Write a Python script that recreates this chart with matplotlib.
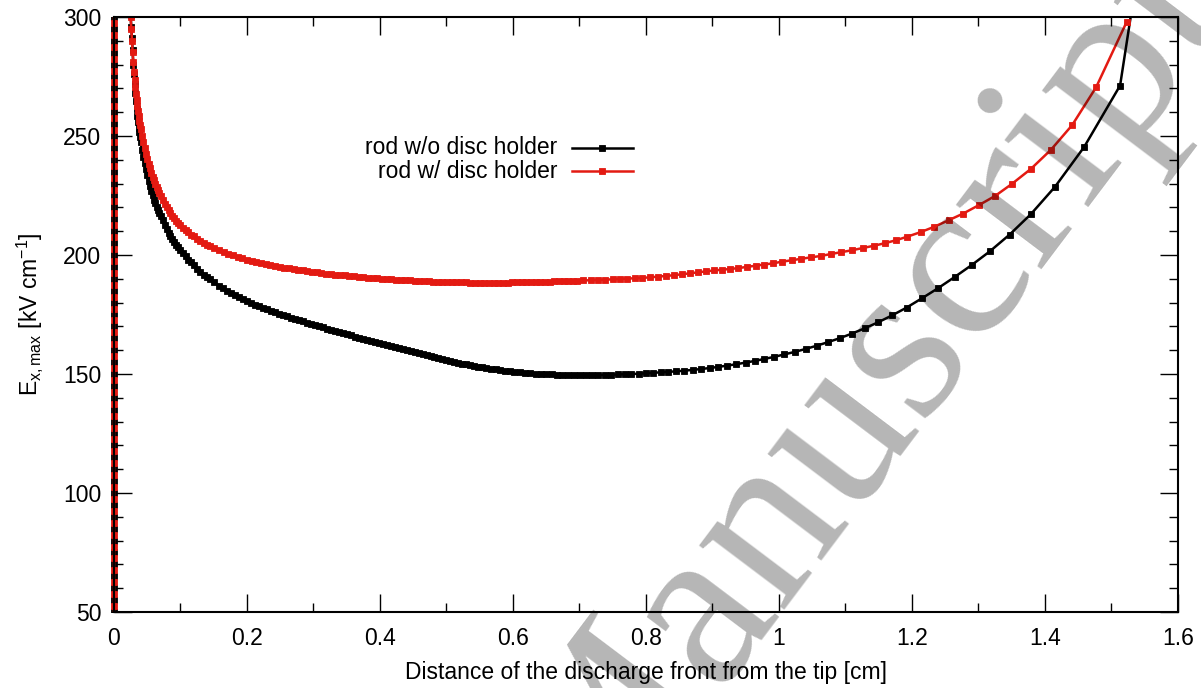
import matplotlib
matplotlib.use("Agg")
import matplotlib.pyplot as plt
from matplotlib.ticker import MultipleLocator
from matplotlib.transforms import Bbox, TransformedBbox

plt.rcParams['font.family'] = ['Liberation Sans', 'DejaVu Sans']
plt.rcParams['mathtext.fontset'] = 'custom'
plt.rcParams['mathtext.rm'] = 'Liberation Sans'
plt.rcParams['mathtext.it'] = 'Liberation Sans:italic'

FS = 16.5

# field build-up at the tip, front still at x = 0
black_rise_y = [45, 50, 55, 60, 65, 70, 75, 80, 85, 90, 95, 100, 105, 110, 115,
                120, 125, 130, 135, 140, 145, 150, 155, 160, 165, 170, 175, 180,
                185, 190, 195, 200, 205, 210, 215, 220, 225, 230, 235, 240, 245,
                250, 255, 260, 265, 270, 275, 280, 285, 290, 295, 300, 305]
red_rise_y = [47.5, 52.5, 57.5, 62.5, 67.5, 72.5, 77.5, 82.5, 87.5, 92.5, 97.5,
              102.5, 107.5, 112.5, 117.5, 122.5, 127.5, 132.5, 137.5, 142.5,
              147.5, 152.5, 157.5, 162.5, 167.5, 172.5, 177.5, 182.5, 187.5,
              192.5, 197.5, 202.5, 207.5, 212.5, 217.5, 222.5, 227.5, 232.5,
              237.5, 242.5, 247.5, 252.5, 257.5, 262.5, 267.5, 272.5, 277.5,
              282.5, 287.5, 292.5, 297.5, 302.5]

# rod without disc holder: front position [cm], E_x,max [kV/cm]
black_x = [0.022, 0.024, 0.025, 0.026, 0.027, 0.028, 0.029, 0.030, 0.031, 0.032,
           0.033, 0.034, 0.035, 0.036, 0.037, 0.038, 0.039, 0.040, 0.042, 0.044,
           0.046, 0.048, 0.050, 0.052, 0.054, 0.056, 0.058, 0.060, 0.062, 0.064,
           0.066, 0.068, 0.070, 0.073, 0.076, 0.079, 0.082, 0.085, 0.088, 0.091,
           0.094, 0.097, 0.100, 0.104, 0.108, 0.112, 0.116, 0.120, 0.125, 0.130,
           0.135, 0.140, 0.145, 0.151,
           0.158, 0.164, 0.170, 0.176, 0.182, 0.188, 0.194, 0.200, 0.206, 0.212,
           0.218, 0.224, 0.230, 0.236, 0.242, 0.248, 0.254, 0.260, 0.266, 0.272,
           0.278, 0.284, 0.290, 0.296, 0.302, 0.308, 0.314, 0.320, 0.326, 0.332,
           0.338, 0.344, 0.350, 0.356, 0.362, 0.368, 0.374, 0.380, 0.386, 0.392,
           0.398, 0.404, 0.410, 0.416, 0.422, 0.428, 0.434, 0.440, 0.446, 0.452,
           0.458, 0.464, 0.470, 0.476, 0.482, 0.488, 0.494, 0.500, 0.506, 0.512,
           0.518, 0.524, 0.530, 0.536, 0.542, 0.548, 0.554, 0.560, 0.567, 0.574,
           0.581, 0.588, 0.595, 0.602, 0.610, 0.618, 0.626, 0.634, 0.642, 0.650,
           0.658, 0.666, 0.674, 0.683, 0.692, 0.701, 0.710, 0.719, 0.728, 0.738,
           0.748, 0.758, 0.768, 0.778, 0.789, 0.800, 0.811, 0.822, 0.833, 0.845,
           0.857, 0.870, 0.883, 0.896, 0.909, 0.922, 0.936, 0.950, 0.964, 0.978,
           0.993, 1.008, 1.024, 1.040, 1.057, 1.074, 1.092, 1.110, 1.129, 1.149,
           1.170, 1.192, 1.215, 1.239, 1.264, 1.290, 1.317, 1.347, 1.379, 1.415,
           1.459, 1.513, 1.530]
black_y = [318, 305, 301, 296, 291, 286, 280, 276, 272, 268,
           264.5, 261.5, 258.5, 256, 253.5, 251.5, 249.5, 247.5, 244, 241,
           238.5, 236, 233.5, 231, 229, 227, 225, 223.3, 221.7, 220.3,
           219, 217.6, 216.3, 214.5, 212.6, 210.8, 209.2, 207.8, 206.6, 205.4,
           204.3, 203.2, 202.2, 200.8, 199.4, 198.1, 196.9, 195.7, 194.3, 193,
           191.8, 190.7, 189.7, 188.5,
           187.1, 186.0, 185.0, 184.1, 183.1, 182.2, 181.3, 180.5, 179.8, 179.1,
           178.4, 177.7, 177.1, 176.5, 175.9, 175.3, 174.8, 174.2, 173.7, 173.2,
           172.6, 172.1, 171.6, 171.1, 170.6, 170.1, 169.6, 169.1, 168.6, 168.1,
           167.6, 167.2, 166.7, 166.2, 165.7, 165.3, 164.8, 164.3, 163.9, 163.4,
           163.0, 162.5, 162.1, 161.6, 161.2, 160.8, 160.3, 159.9, 159.5, 159.1,
           158.7, 158.3, 157.9, 157.5, 157.1, 156.7, 156.3, 155.9, 155.5, 155.1,
           154.7, 154.4, 154.0, 153.7, 153.4, 153.1, 152.8, 152.5, 152.2, 151.9,
           151.6, 151.3, 151.1, 150.9, 150.7, 150.5, 150.3, 150.1, 150.0, 149.9,
           149.8, 149.7, 149.6, 149.5, 149.5, 149.5, 149.5, 149.5, 149.5, 149.6,
           149.7, 149.8, 149.9, 150.0, 150.1, 150.3, 150.5, 150.7, 150.9, 151.1,
           151.4, 151.7, 152.1, 152.5, 153.0, 153.5, 154.1, 154.8, 155.5, 156.3,
           157.2, 158.2, 159.3, 160.5, 161.9, 163.4, 165.1, 167.0, 169.2, 171.7,
           174.6, 177.9, 181.8, 186.0, 190.7, 195.8, 201.5, 208.6, 217.2, 228.6,
           245.4, 271.2, 302]

# rod with disc holder
red_x = [0.022, 0.024, 0.025, 0.026, 0.027, 0.028, 0.029, 0.030, 0.031, 0.032,
         0.033, 0.034, 0.035, 0.036, 0.037, 0.038, 0.039, 0.040, 0.042, 0.044,
         0.046, 0.048, 0.050, 0.052, 0.054, 0.056, 0.058, 0.060, 0.062, 0.064,
         0.066, 0.068, 0.070, 0.073, 0.076, 0.079, 0.082, 0.085, 0.088, 0.091,
         0.094, 0.097, 0.100, 0.104, 0.108, 0.112, 0.116, 0.120, 0.125, 0.130,
         0.135, 0.140, 0.145, 0.151,
         0.158, 0.165, 0.172, 0.179, 0.186, 0.193, 0.200, 0.207, 0.214, 0.221,
         0.228, 0.235, 0.242, 0.249, 0.256, 0.263, 0.270, 0.277, 0.284, 0.291,
         0.298, 0.305, 0.312, 0.319, 0.326, 0.333, 0.340, 0.347, 0.354, 0.361,
         0.368, 0.375, 0.382, 0.389, 0.396, 0.403, 0.410, 0.417, 0.424, 0.431,
         0.438, 0.445, 0.452, 0.459, 0.466, 0.473, 0.480, 0.487, 0.494, 0.501,
         0.508, 0.515, 0.522, 0.529, 0.536, 0.543, 0.550, 0.557, 0.564, 0.571,
         0.578, 0.585, 0.592, 0.599, 0.606, 0.613, 0.620, 0.627, 0.634, 0.641,
         0.648, 0.655, 0.662, 0.669, 0.676, 0.683, 0.690, 0.697, 0.706, 0.717,
         0.728, 0.739, 0.750, 0.761, 0.772, 0.783, 0.794, 0.806, 0.818, 0.830,
         0.842, 0.854, 0.866, 0.878, 0.890, 0.902, 0.914, 0.926, 0.939, 0.952,
         0.965, 0.978, 0.991, 1.005, 1.019, 1.033, 1.048, 1.063, 1.078, 1.094,
         1.110, 1.126, 1.143, 1.160, 1.176, 1.192, 1.214, 1.233, 1.256, 1.277,
         1.301, 1.325, 1.350, 1.379, 1.409, 1.441, 1.477, 1.523]
red_y = [322, 305, 300, 295, 290, 285.5, 281, 277, 273.5, 270.5,
         267.5, 265, 262.5, 260.5, 258.5, 256.5, 254.7, 253, 250, 247.3,
         244.8, 242.5, 240.3, 238.3, 236.4, 234.6, 232.9, 231.3, 229.8, 228.4,
         227.1, 225.9, 224.7, 223, 221.5, 220.1, 218.8, 217.6, 216.5, 215.4,
         214.4, 213.5, 212.6, 211.5, 210.5, 209.5, 208.6, 207.8, 206.8, 205.9,
         205.1, 204.3, 203.6, 202.8,
         202.0, 201.3, 200.6, 199.9, 199.3, 198.7, 198.1, 197.6, 197.1, 196.6,
         196.2, 195.8, 195.4, 195.0, 194.7, 194.4, 194.1, 193.8, 193.5, 193.2,
         192.9, 192.7, 192.4, 192.2, 192.0, 191.8, 191.6, 191.4, 191.2, 191.0,
         190.8, 190.6, 190.5, 190.3, 190.2, 190.0, 189.9, 189.7, 189.6, 189.5,
         189.4, 189.3, 189.2, 189.1, 189.0, 188.9, 188.8, 188.8, 188.7, 188.6,
         188.6, 188.5, 188.5, 188.5, 188.4, 188.4, 188.4, 188.4, 188.4, 188.4,
         188.4, 188.4, 188.4, 188.5, 188.5, 188.5, 188.6, 188.6, 188.7, 188.7,
         188.8, 188.8, 188.9, 188.9, 189.0, 189.1, 189.1, 189.2, 189.3, 189.4,
         189.5, 189.6, 189.8, 189.9, 190.1, 190.2, 190.4, 190.6, 190.9, 191.2,
         191.5, 191.9, 192.3, 192.7, 193.1, 193.5, 193.8, 194.1, 194.5, 195.0,
         195.5, 196.0, 196.5, 197.2, 197.8, 198.4, 199.0, 199.6, 200.4, 201.2,
         202.0, 202.9, 203.9, 205.0, 206.2, 207.6, 209.7, 211.8, 214.7, 217.4,
         221.0, 224.8, 229.8, 236.2, 244.2, 254.6, 270.5, 298]

labels = ['rod w/o disc holder', 'rod w/ disc holder']
colors = ['black', '#e31a12']
x_ticks = [0, 0.2, 0.4, 0.6, 0.8, 1.0, 1.2, 1.4, 1.6]
x_ticklabels = ['0', '0.2', '0.4', '0.6', '0.8', '1', '1.2', '1.4', '1.6']
y_ticks = [50, 100, 150, 200, 250, 300]

series = [
    ([0.0] * len(black_rise_y) + black_x, black_rise_y + black_y),
    ([0.0] * len(red_rise_y) + red_x, red_rise_y + red_y),
]

fig = plt.figure(figsize=(12.01, 6.88), dpi=100)
ax = fig.add_axes([0.0949, 0.1105, 0.8859, 0.8648])

# let the points sitting on x = 0 stick out past the left spine
clip = TransformedBbox(Bbox([[-0.01, 0.0], [1.01, 1.0]]), ax.transAxes)
for (xs, ys), c in zip(series, colors):
    ln, = ax.plot(xs, ys, color=c, lw=1.8, marker='s', ms=4.8, mew=0.6,
                  mec=c, mfc=c)
    ln.set_clip_box(clip)

ax.set_xlim(0, 1.6)
ax.set_ylim(50, 300)
ax.set_xticks(x_ticks)
ax.set_xticklabels(x_ticklabels)
ax.set_yticks(y_ticks)
ax.xaxis.set_minor_locator(MultipleLocator(0.1))
ax.yaxis.set_minor_locator(MultipleLocator(10))
ax.tick_params(which='both', direction='in', top=True, right=True,
               labelsize=FS, width=1.0, color='black')
ax.tick_params(which='major', length=13)
ax.tick_params(which='minor', length=6.5)
ax.tick_params(axis='x', pad=11)
ax.tick_params(axis='y', pad=9)
for sp in ax.spines.values():
    sp.set_linewidth(1.5)

ax.set_xlabel('Distance of the discharge front from the tip [cm]', fontsize=FS)
ax.xaxis.set_label_coords(0.5, -0.1025)
ax.xaxis.label.set_va('center')
ax.set_ylabel(r'E$_{\mathrm{x,max}}$ [kV cm$^{\mathrm{-1}}$]', fontsize=FS)
ax.yaxis.set_label_coords(-0.079, 0.5)
ax.yaxis.label.set_va('center')

# gnuplot-style key: label right-aligned, sample to its right
for i, (lab, c) in enumerate(zip(labels, colors)):
    ky = 0.780 - 0.039 * i
    ax.text(0.4164, ky, lab, transform=ax.transAxes, ha='right', va='center',
            fontsize=FS)
    ax.plot([0.4305, 0.4586, 0.4878], [ky, ky, ky], transform=ax.transAxes,
            color=c, lw=1.8, marker='s', ms=4.8, mew=0.6, markevery=[1],
            clip_on=False)

# watermark over the whole figure
fig.text(0.4935, -0.246, 'Manuscript', fontsize=168, family='Liberation Serif',
         rotation=53, rotation_mode='anchor', ha='left', va='baseline',
         color='black', alpha=0.29, zorder=10)

fig.savefig('out.png', dpi=100)
